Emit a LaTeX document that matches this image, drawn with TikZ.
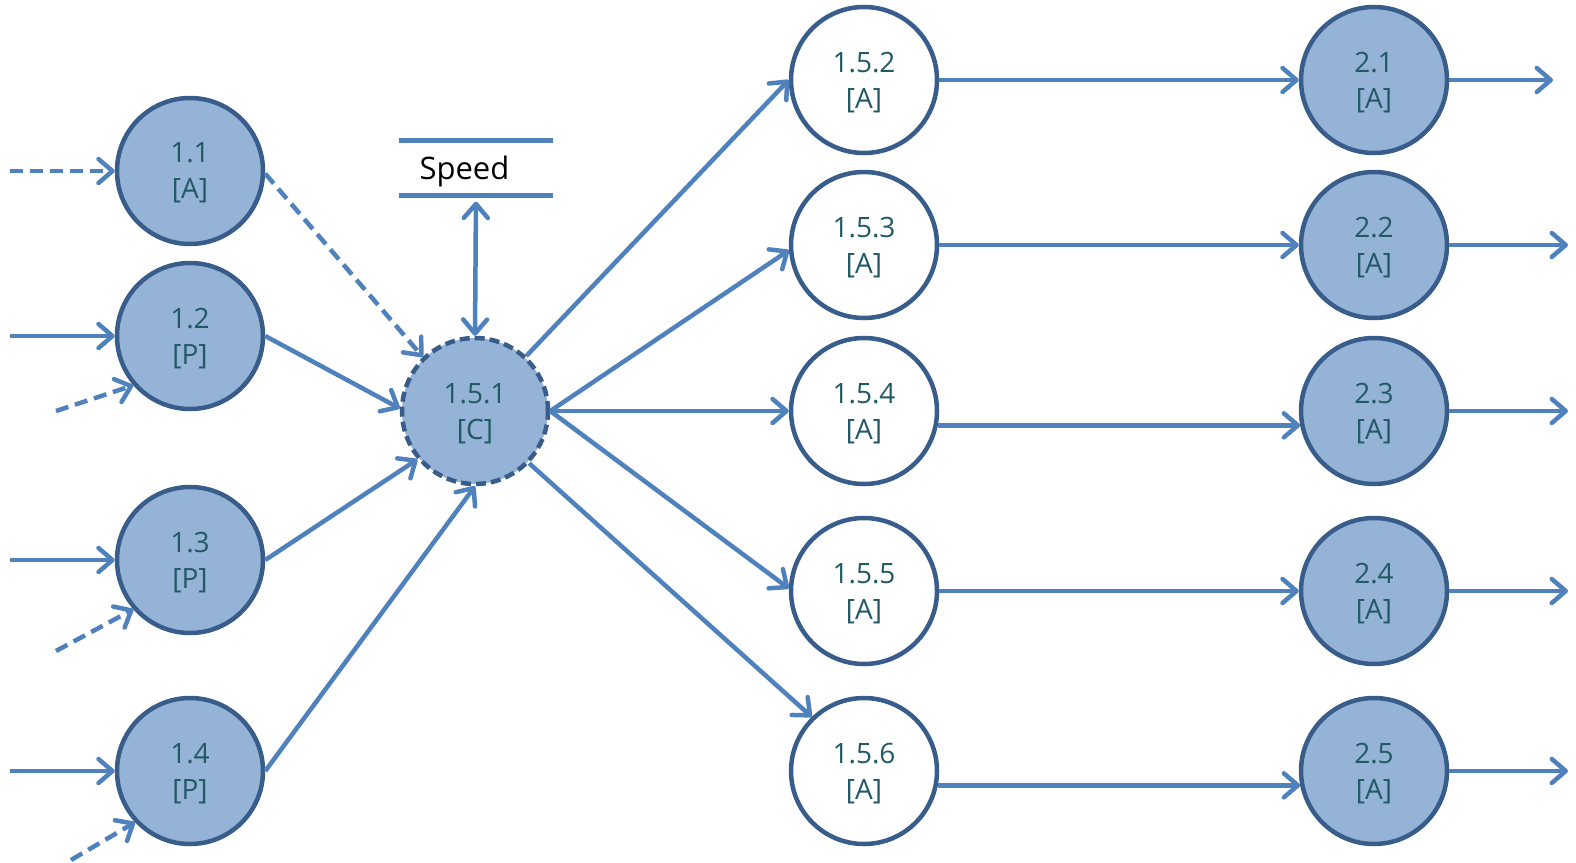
\documentclass[tikz,border=0pt]{standalone}
\usepackage{fontspec}
\setmainfont{Open Sans}
\usetikzlibrary{arrows.meta}

\definecolor{nodefill}{HTML}{95B3D7}
\definecolor{nodeline}{HTML}{385D8A}
\definecolor{flow}{HTML}{4F81BD}
\definecolor{label}{HTML}{215967}

\begin{document}
\begin{tikzpicture}[
  x=1pt, y=-1pt,
  proc/.style={circle, draw=nodeline, line width=4.5pt, minimum size=146pt, inner sep=0pt,
    align=center, text=label, font=\fontsize{28}{36}\selectfont, text depth=-2pt},
  filled/.style={proc, fill=nodefill},
  open/.style={proc, fill=white},
  ctrl/.style={filled, dash pattern=on 10pt off 5pt},
  arrow/.style={flow, line width=4.5pt, -{Straight Barb[length=14pt,width=24pt,round]}},
  twoway/.style={arrow, {Straight Barb[length=14pt,width=24pt,round]}-{Straight Barb[length=14pt,width=24pt,round]}},
  dasharrow/.style={arrow, dash pattern=on 13pt off 7pt},
  store/.style={minimum height=55pt, inner xsep=20pt, inner ysep=0pt, text width=113pt,
    align=left, text depth=0pt, font=\fontsize{31}{36}\selectfont},
]
  \useasboundingbox (0,0) rectangle (1576,862);

  % inputs
  \node[filled] (n11) at (190,171) {1.1\\{[A]}};
  \node[filled] (n12) at (190,336) {1.2\\{[P]}};
  \node[filled] (n13) at (190,560) {1.3\\{[P]}};
  \node[filled] (n14) at (190,771) {1.4\\{[P]}};

  % control node and its data store
  \node[ctrl] (n151) at (475,411) {1.5.1\\{[C]}};
  \node[store] (speed) at (476,168) {Speed};
  \draw[flow, line width=4.5pt] (speed.north west) -- (speed.north east);
  \draw[flow, line width=4.5pt] (speed.south west) -- (speed.south east);

  % actions
  \node[open] (n152) at (864,80)  {1.5.2\\{[A]}};
  \node[open] (n153) at (864,245) {1.5.3\\{[A]}};
  \node[open] (n154) at (864,411) {1.5.4\\{[A]}};
  \node[open] (n155) at (864,591) {1.5.5\\{[A]}};
  \node[open] (n156) at (864,771) {1.5.6\\{[A]}};

  \node[filled] (n21) at (1374,80)  {2.1\\{[A]}};
  \node[filled] (n22) at (1374,245) {2.2\\{[A]}};
  \node[filled] (n23) at (1374,411) {2.3\\{[A]}};
  \node[filled] (n24) at (1374,591) {2.4\\{[A]}};
  \node[filled] (n25) at (1374,771) {2.5\\{[A]}};

  % loose ends
  \coordinate (in11) at (10,171);
  \coordinate (in12) at (10,336);
  \coordinate (in12d) at (56,411);
  \coordinate (in13) at (10,560);
  \coordinate (in13d) at (56,651);
  \coordinate (in14) at (10,771);
  \coordinate (in14d) at (71,860);
  \coordinate (out21) at (1553,80);
  \coordinate (out22) at (1568,245);
  \coordinate (out23) at (1568,411);
  \coordinate (out24) at (1568,591);
  \coordinate (out25) at (1568,771);

  \draw[dasharrow] (in11) -- (n11);
  \draw[arrow] (in12) -- (n12);
  \draw[dasharrow] (in12d) -- (n12.221);
  \draw[arrow] (in13) -- (n13);
  \draw[dasharrow] (in13d) -- (n13.221);
  \draw[arrow] (in14) -- (n14);
  \draw[dasharrow] (in14d) -- (n14.223);

  \draw[dasharrow] (n11.-2) -- (n151.134);
  \draw[arrow] (n12.east) -- (n151.178);
  \draw[arrow] (n13.east) -- (n151.220);
  \draw[arrow] (n14.east) -- (n151.south);
  \draw[twoway, shorten <=6pt] (speed.south) -- (n151.north);

  \draw[arrow] (n151.47) -- (n152.west);
  \draw[arrow] (n151.east) -- (n153.184);
  \draw[arrow] (n151.east) -- (n154.west);
  \draw[arrow] (n151.east) -- (n155.178);
  \draw[arrow] (n151.-44) -- (n156.134);

  \draw[arrow] (n152.east) -- (n21.west);
  \draw[arrow] (n153.east) -- (n22.west);
  \draw[arrow] (n154.-11) -- (n23.191);
  \draw[arrow] (n155.east) -- (n24.west);
  \draw[arrow] (n156.-11) -- (n25.191);

  \draw[arrow] (n21.east) -- (out21);
  \draw[arrow] (n22.east) -- (out22);
  \draw[arrow] (n23.east) -- (out23);
  \draw[arrow] (n24.east) -- (out24);
  \draw[arrow] (n25.east) -- (out25);
\end{tikzpicture}
\end{document}
